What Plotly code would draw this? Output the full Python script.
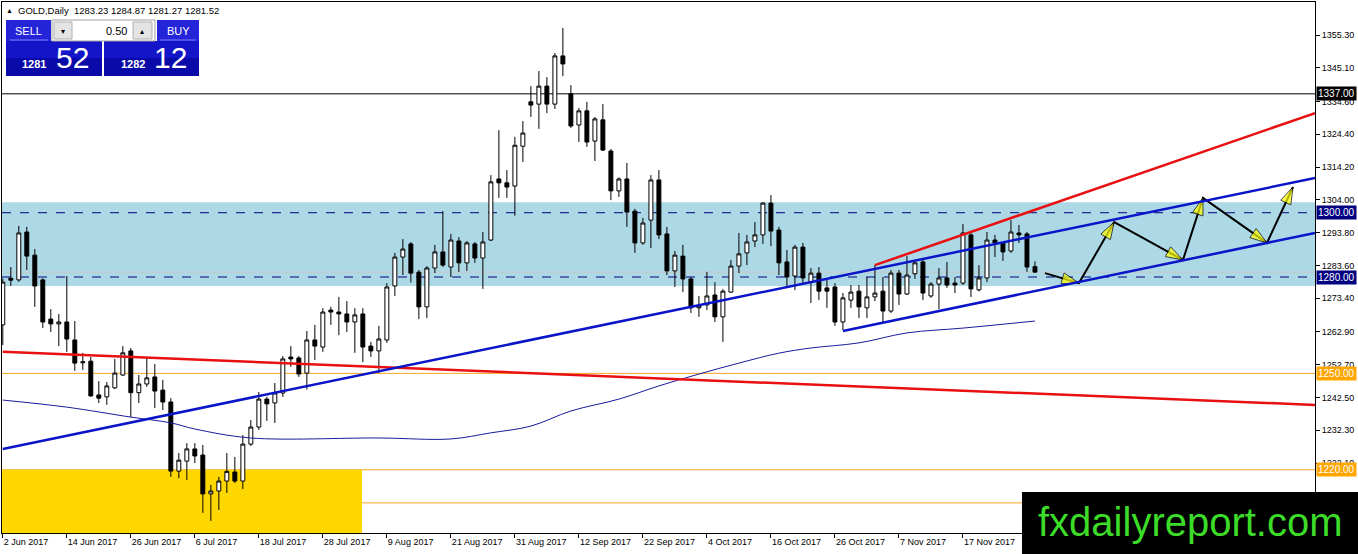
import pandas as pd
import plotly.graph_objects as go

# ---- data --------------------------------------------------------------
opens = [1265.1, 1279.6, 1279.1, 1294.0, 1286.8, 1279.1, 1266.9, 1265.4, 1266.0, 1260.4,
         1253.3, 1253.8, 1243.3, 1242.7, 1245.5, 1249.5, 1257.0, 1244.0, 1246.7, 1248.9,
         1244.8, 1241.1, 1219.6, 1222.7, 1226.5, 1224.6, 1212.5, 1213.4, 1216.5, 1219.3,
         1216.5, 1228.0, 1233.3, 1242.0, 1240.8, 1243.9, 1255.1, 1254.8, 1250.1, 1260.4,
         1258.2, 1269.7, 1269.1, 1268.5, 1266.0, 1268.5, 1258.5, 1257.0, 1260.4, 1277.2,
         1286.2, 1290.3, 1281.5, 1270.7, 1282.8, 1287.8, 1283.1, 1291.2, 1284.4, 1290.3,
         1285.9, 1291.5, 1310.5, 1309.3, 1308.3, 1320.7, 1334.5, 1333.8, 1339.4, 1333.8,
         1348.8, 1337.0, 1327.3, 1331.7, 1322.3, 1328.9, 1319.2, 1306.8, 1310.5, 1300.5,
         1290.6, 1297.7, 1310.2, 1293.4, 1281.9, 1286.5, 1279.4, 1270.4, 1271.3, 1274.4,
         1267.6, 1275.3, 1283.4, 1287.5, 1291.2, 1293.1, 1303.0, 1294.6, 1284.7, 1280.3,
         1289.3, 1278.4, 1281.2, 1276.6, 1276.9, 1266.0, 1272.8, 1275.6, 1270.4, 1273.8,
         1275.6, 1269.4, 1281.2, 1274.7, 1281.0, 1284.7, 1274.1, 1277.8, 1279.7, 1278.1,
         1278.1, 1293.1, 1276.0, 1279.7, 1291.5, 1290.6, 1288.1, 1293.7, 1293.4, 1283.23]
highs = [1279.5, 1283.1, 1295.9, 1295.6, 1288.7, 1279.6, 1270.0, 1268.5, 1280.3, 1266.3,
         1256.4, 1255.1, 1247.6, 1247.3, 1254.5, 1258.5, 1257.9, 1249.5, 1254.8, 1252.9,
         1248.0, 1242.3, 1225.2, 1228.3, 1228.3, 1227.7, 1215.3, 1217.8, 1225.2, 1224.0,
         1230.8, 1235.5, 1244.2, 1242.7, 1247.0, 1255.4, 1258.5, 1255.4, 1263.2, 1265.1,
         1270.3, 1270.7, 1273.8, 1272.5, 1270.3, 1270.3, 1259.8, 1264.8, 1278.1, 1287.5,
         1291.8, 1290.9, 1282.2, 1283.4, 1290.0, 1300.5, 1293.4, 1292.4, 1291.2, 1290.9,
         1294.0, 1311.7, 1325.7, 1313.3, 1323.6, 1328.5, 1339.4, 1344.1, 1342.2, 1349.7,
         1357.5, 1339.7, 1332.6, 1334.5, 1329.8, 1333.8, 1319.8, 1311.0, 1315.5, 1301.2,
         1298.4, 1311.7, 1313.3, 1295.6, 1288.1, 1290.0, 1280.0, 1274.1, 1281.6, 1278.4,
         1276.2, 1285.3, 1293.7, 1293.1, 1297.1, 1303.3, 1305.5, 1295.6, 1288.4, 1290.0,
         1290.6, 1282.8, 1283.1, 1279.1, 1278.1, 1275.0, 1277.5, 1277.5, 1280.0, 1283.7,
         1280.0, 1282.2, 1282.2, 1286.5, 1285.3, 1285.6, 1278.4, 1282.8, 1284.7, 1280.0,
         1296.5, 1293.7, 1283.7, 1294.0, 1293.1, 1290.9, 1297.7, 1296.2, 1294.0, 1284.87]
lows = [1258.8, 1277.2, 1278.5, 1282.2, 1270.7, 1264.1, 1262.9, 1258.5, 1256.7, 1250.8,
        1251.1, 1242.7, 1240.8, 1240.2, 1245.1, 1249.2, 1236.4, 1240.8, 1245.8, 1239.2,
        1238.6, 1217.8, 1217.4, 1216.8, 1222.1, 1206.6, 1204.1, 1207.5, 1212.8, 1215.9,
        1214.0, 1227.4, 1232.4, 1235.2, 1234.6, 1242.7, 1252.0, 1248.9, 1245.0, 1254.2,
        1256.7, 1265.1, 1261.9, 1262.9, 1256.4, 1253.5, 1255.1, 1250.1, 1259.5, 1274.1,
        1280.6, 1278.3, 1266.9, 1267.2, 1281.2, 1283.1, 1280.0, 1281.6, 1281.9, 1284.4,
        1276.3, 1291.2, 1304.6, 1304.6, 1299.1, 1315.8, 1329.8, 1326.1, 1331.0, 1332.3,
        1342.5, 1326.4, 1322.0, 1320.5, 1316.1, 1319.2, 1303.9, 1304.9, 1295.6, 1287.5,
        1290.0, 1289.0, 1291.8, 1280.6, 1276.9, 1275.3, 1268.8, 1267.6, 1269.7, 1266.0,
        1259.8, 1275.0, 1281.2, 1283.7, 1289.3, 1290.3, 1289.6, 1280.6, 1276.9, 1275.9,
        1277.5, 1271.9, 1272.8, 1270.4, 1264.8, 1263.5, 1270.4, 1267.2, 1267.2, 1272.5,
        1265.7, 1268.8, 1271.3, 1274.4, 1279.4, 1272.8, 1273.5, 1270.0, 1276.6, 1275.0,
        1277.5, 1273.8, 1275.5, 1278.4, 1286.2, 1285.0, 1287.5, 1290.6, 1281.6, 1281.27]
closes = [1278.4, 1279.0, 1293.7, 1286.5, 1277.2, 1266.0, 1265.4, 1266.0, 1260.7, 1253.2,
          1253.6, 1243.0, 1242.3, 1246.1, 1250.1, 1256.4, 1244.0, 1246.7, 1248.6, 1244.5,
          1241.1, 1219.6, 1223.0, 1226.5, 1224.3, 1212.5, 1213.4, 1216.5, 1219.5, 1216.5,
          1228.0, 1233.3, 1242.0, 1240.5, 1243.9, 1254.5, 1254.5, 1249.8, 1260.4, 1258.5,
          1269.1, 1269.1, 1268.5, 1266.0, 1268.2, 1258.2, 1257.0, 1260.7, 1276.9, 1286.2,
          1288.7, 1281.2, 1270.7, 1282.8, 1287.8, 1283.7, 1291.5, 1284.4, 1290.6, 1285.9,
          1290.9, 1309.6, 1309.3, 1308.0, 1321.0, 1324.8, 1333.5, 1339.4, 1333.8, 1348.8,
          1346.3, 1327.0, 1331.7, 1322.0, 1329.2, 1319.5, 1306.8, 1310.5, 1300.2, 1290.6,
          1296.8, 1310.2, 1293.1, 1281.9, 1286.8, 1279.4, 1270.4, 1271.0, 1274.1, 1267.6,
          1275.6, 1283.4, 1287.2, 1290.9, 1293.1, 1303.0, 1294.3, 1284.4, 1280.0, 1289.3,
          1279.7, 1281.2, 1275.6, 1275.6, 1266.0, 1273.5, 1275.3, 1270.7, 1273.8, 1275.0,
          1269.4, 1281.2, 1274.7, 1280.6, 1284.4, 1275.0, 1277.8, 1279.7, 1277.5, 1277.5,
          1293.7, 1276.3, 1279.7, 1291.5, 1290.6, 1287.8, 1294.0, 1293.1, 1283.1, 1281.52]

# thin moving average, read at a few bars (bar index, price)
ma_bars = [0, 8, 16, 21, 24, 31, 47, 56, 61, 66, 71, 77, 82, 87, 92, 97, 101, 107, 113, 120, 129]
ma_vals = [1241.7, 1239.5, 1236.4, 1234.6, 1232.7, 1229.9, 1229.9, 1229.6, 1231.5, 1233.6,
           1238.3, 1242.0, 1246.1, 1249.8, 1253.2, 1256.3, 1257.9, 1259.5, 1262.6, 1264.1, 1266.3]

y_ticks = [1355.30, 1345.10, 1334.60, 1324.40, 1314.20, 1304.00, 1293.80, 1283.60,
           1273.40, 1262.90, 1252.70, 1242.50, 1232.30, 1222.10, 1211.90]

# horizontal levels
zone_lo, zone_hi = 1277.2, 1303.3
box_top, box_end_bar = 1220.0, 44.9
black_level = 1337.0
navy_levels = [1300.0, 1280.0]
orange_levels = [1250.0, 1220.0]
orange_faint = 1209.7
bid_price = 1281.52

# trendlines: (bar0, price0, bar1, price1)
blue_lines = [(0, 1226.5, 164, 1310.8), (105, 1263.2, 164, 1293.7)]
red_lines = [(0, 1256.7, 164, 1240.2), (109, 1283.7, 164, 1331.0)]

# projected zig-zag path (bar position, price)
path_bars = [130.25, 134.5, 138.9, 147.5, 150.0, 158.0, 161.25]
path_prices = [1281.2, 1278.1, 1297.1, 1285.3, 1304.6, 1290.6, 1308.0]

n_total = 165
days = pd.bdate_range("2017-06-02", periods=n_total)
cats = [d.strftime("%Y-%m-%d") for d in days]
bars = cats[:len(opens)]
tick_idx = list(range(0, 121, 8))
x_range = [-0.1, 164]

# ---- pixel helpers for decorations (plot area 2..1315 x 2..533) --------
W, H = 1358, 554
L, R, T, B = 2, 1315, 2, 533


def px(x):
    return (x - L) / (R - L)


def py(y):
    return (B - y) / (B - T)


FONT = "Liberation Sans"

fig = go.Figure()

fig.add_trace(go.Candlestick(
    x=bars, open=opens, high=highs, low=lows, close=closes,
    increasing=dict(line=dict(color="black", width=1), fillcolor="white"),
    decreasing=dict(line=dict(color="black", width=1), fillcolor="black"),
    whiskerwidth=0, showlegend=False, hoverinfo="skip",
))

fig.add_trace(go.Scatter(
    x=[cats[i] for i in ma_bars], y=ma_vals, mode="lines",
    line=dict(color="#1a1a9c", width=1, shape="spline"),
    showlegend=False, hoverinfo="skip",
))

# zig-zag arrows, on a linear twin of the bar axis
fig.add_trace(go.Scatter(
    x=path_bars, y=path_prices, mode="lines", xaxis="x2",
    line=dict(color="black", width=2), showlegend=False, hoverinfo="skip",
))
fig.add_trace(go.Scatter(
    x=path_bars, y=path_prices, mode="markers", xaxis="x2",
    marker=dict(symbol="arrow", size=[0] + [18] * (len(path_bars) - 1),
                angleref="previous", color="#FFFF00",
                line=dict(color="black", width=1)),
    showlegend=False, hoverinfo="skip",
))

shapes = []
# zones
shapes.append(dict(type="rect", xref="paper", yref="y", x0=0, x1=1, y0=zone_lo, y1=zone_hi,
                   fillcolor="#ADD8E6", line_width=0, layer="below"))
shapes.append(dict(type="rect", xref="x", yref="y", x0=-0.1, x1=box_end_bar, y0=1190, y1=box_top,
                   fillcolor="#FFD700", line_width=0, layer="below"))
# levels
shapes.append(dict(type="line", xref="paper", yref="y", x0=0, x1=1, y0=bid_price, y1=bid_price,
                   line=dict(color="#C8C8C8", width=1), layer="below"))
shapes.append(dict(type="line", xref="paper", yref="y", x0=0, x1=1, y0=black_level, y1=black_level,
                   line=dict(color="black", width=1), layer="below"))
for lv in navy_levels:
    shapes.append(dict(type="line", xref="paper", yref="y", x0=0, x1=1, y0=lv, y1=lv,
                       line=dict(color="#000080", width=1, dash="dash"), layer="below"))
for lv in orange_levels + [orange_faint]:
    shapes.append(dict(type="line", xref="paper", yref="y", x0=0, x1=1, y0=lv, y1=lv,
                       line=dict(color="#F5A623", width=1), layer="below"))
# trendlines
for b0, p0, b1, p1 in red_lines:
    shapes.append(dict(type="line", xref="x", yref="y", x0=b0, x1=b1, y0=p0, y1=p1,
                       line=dict(color="#E81010", width=2.5)))
for b0, p0, b1, p1 in blue_lines:
    shapes.append(dict(type="line", xref="x", yref="y", x0=b0, x1=b1, y0=p0, y1=p1,
                       line=dict(color="#0A14C8", width=2.5)))

# trade panel
def prect(x0, y0, x1, y1, color, line=None):
    return dict(type="rect", xref="paper", yref="paper", x0=px(x0), x1=px(x1),
                y0=py(y1), y1=py(y0), fillcolor=color,
                line=dict(color=line or color, width=1 if line else 0), layer="above")

shapes += [
    prect(6, 20, 51, 41, "#2424D8"),
    prect(157, 20, 199, 41, "#2424D8"),
    prect(6, 41, 102, 58, "#1414C8"),
    prect(6, 58, 102, 76, "#0A0AA8"),
    prect(104, 41, 199, 58, "#1414C8"),
    prect(104, 58, 199, 76, "#0A0AA8"),
    prect(52, 20, 155, 41, "white", "#A0A0A0"),
    prect(54, 22, 72, 39, "#E4E4E4", "#B0B0B0"),
    prect(133, 22, 152, 39, "#E4E4E4", "#B0B0B0"),
    dict(type="line", xref="paper", yref="paper", x0=px(10), x1=px(48), y0=py(40), y1=py(40),
         line=dict(color="#8080FF", width=1)),
    dict(type="line", xref="paper", yref="paper", x0=px(160), x1=px(196), y0=py(40), y1=py(40),
         line=dict(color="#8080FF", width=1)),
    # watermark box
    dict(type="rect", xref="paper", yref="paper", x0=px(1022), x1=px(1358),
         y0=py(554), y1=py(492), fillcolor="black", line_width=0, layer="above"),
]

ann = []


def note(x, y, text, size=9, color="black", xanchor="left", bg=None, family=FONT):
    ann.append(dict(xref="paper", yref="paper", x=px(x), y=py(y), text=text,
                    showarrow=False, xanchor=xanchor, yanchor="middle",
                    font=dict(family=family, size=size, color=color),
                    bgcolor=bg, borderpad=0))


note(5, 10, "▲", size=7)
note(17, 10, "GOLD,Daily  1283.23 1284.87 1281.27 1281.52", size=9.5)
note(28, 31, "SELL", size=11, color="white", xanchor="center")
note(178, 31, "BUY", size=11, color="white", xanchor="center")
note(63, 31, "▾", size=8, xanchor="center")
note(128, 31, "0.50", size=11, xanchor="right")
note(142, 31, "▴", size=8, xanchor="center")
note(34, 64, "<b>1281</b>", size=11, color="white", xanchor="center")
note(72, 58, "52", size=30, color="white", xanchor="center")
note(133, 64, "<b>1282</b>", size=11, color="white", xanchor="center")
note(170, 58, "12", size=30, color="white", xanchor="center")
note(1190, 522, "fxdailyreport.com", size=40, color="#3CDC28", xanchor="center")

# price labels on the right axis
def tag(price, bg, fg="white"):
    ann.append(dict(xref="paper", yref="y", x=1, y=price, text="%.2f" % price,
                    showarrow=False, xanchor="left", yanchor="middle", xshift=1,
                    font=dict(family=FONT, size=10, color=fg), bgcolor=bg, borderpad=1))


tag(black_level, "black")
for lv in navy_levels:
    tag(lv, "#000080")
for lv in orange_levels:
    tag(lv, "#FFA500")

fig.update_layout(
    width=W, height=H,
    margin=dict(l=L, r=W - R, t=T, b=H - B),
    paper_bgcolor="white", plot_bgcolor="white",
    font=dict(family=FONT, size=9, color="black"),
    shapes=shapes, annotations=ann,
    xaxis=dict(type="category", categoryorder="array", categoryarray=cats,
               range=x_range, rangeslider=dict(visible=False),
               tickvals=[cats[i] for i in tick_idx],
               ticktext=[days[i].strftime("%-d %b %Y") for i in tick_idx],
               ticklabelposition="outside right",
               ticks="outside", ticklen=4, tickcolor="black",
               showgrid=False, showline=True, linecolor="black", linewidth=1, mirror=True,
               tickfont=dict(family=FONT, size=9)),
    xaxis2=dict(overlaying="x", range=x_range, visible=False, showgrid=False),
    yaxis=dict(side="right", range=[1200.33, 1365.58],
               tickvals=y_ticks, ticktext=["%.2f" % v for v in y_ticks],
               ticks="outside", ticklen=4, tickcolor="black",
               showgrid=False, zeroline=False, showline=True, linecolor="black",
               linewidth=1, mirror=True, tickfont=dict(family=FONT, size=9)),
)

fig.write_html("out.html", config={"displayModeBar": False},
               post_script="document.body.style.margin='0';document.body.style.overflow='hidden';")
